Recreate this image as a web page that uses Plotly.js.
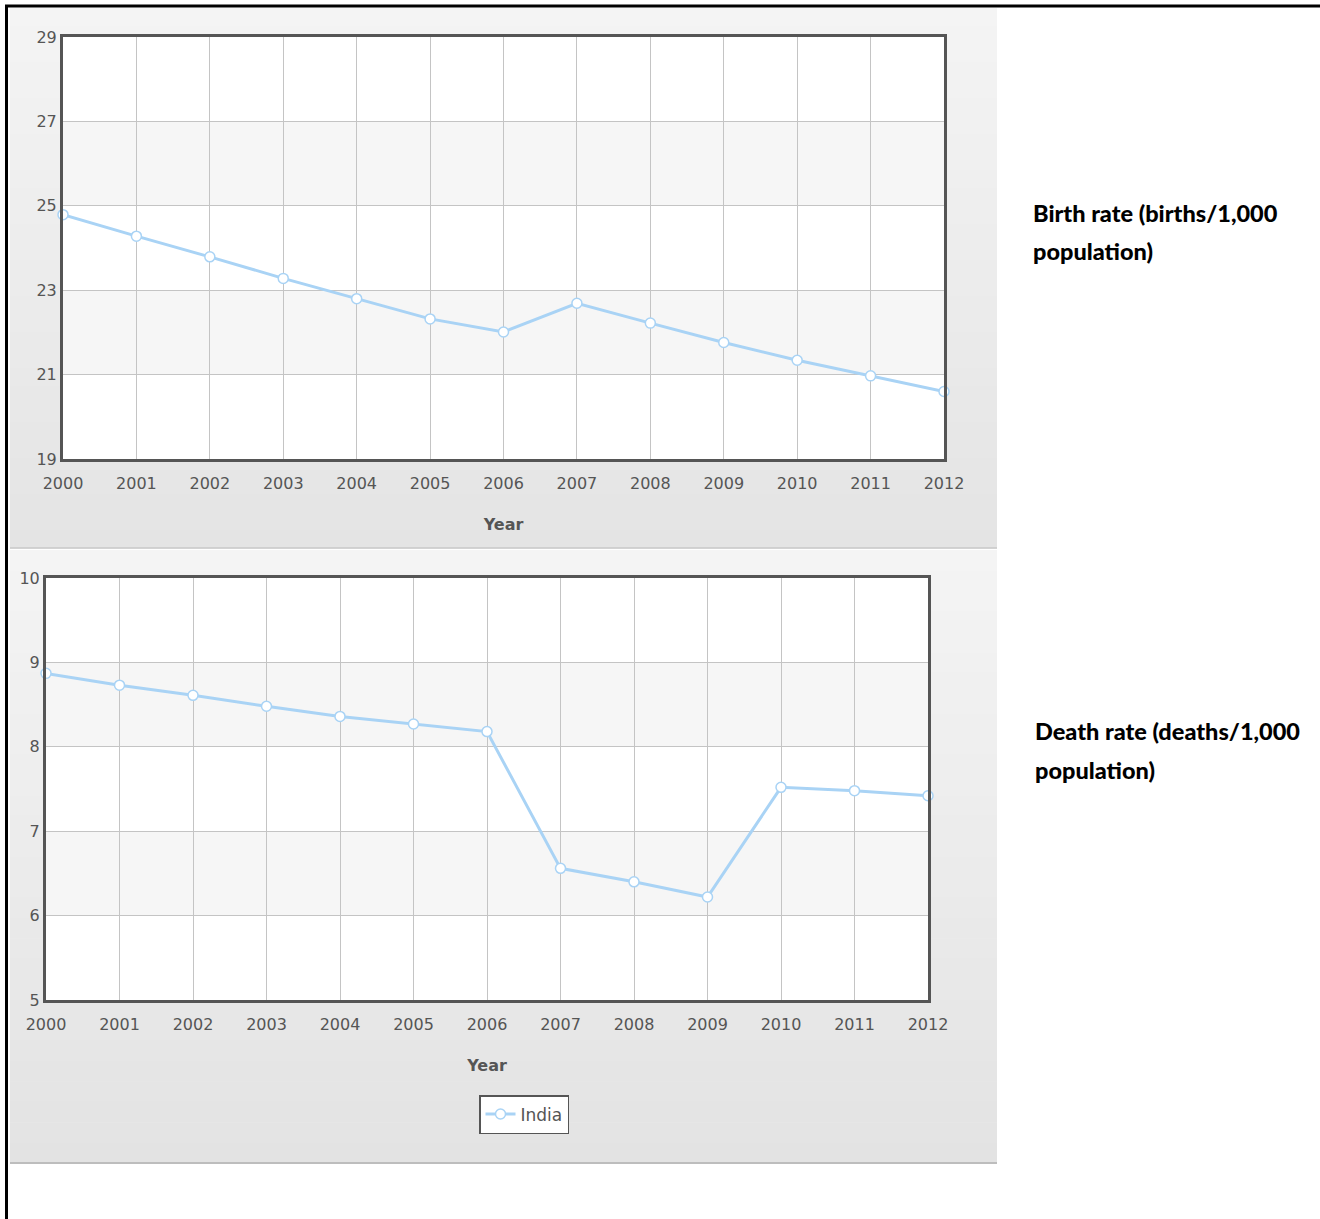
<!DOCTYPE html>
<html>
<head>
<meta charset="utf-8">
<script src="https://cdn.plot.ly/plotly-3.0.1.min.js"></script>
<style>
  html, body { margin: 0; padding: 0; background: #ffffff; }
  #chart { width: 1320px; height: 1219px; }
</style>
</head>
<body>
<div id="chart"></div>
<script>
// ---- data ----
const years = [2000, 2001, 2002, 2003, 2004, 2005, 2006, 2007, 2008, 2009, 2010, 2011, 2012];
const birthRate = [24.79, 24.28, 23.79, 23.28, 22.8, 22.32, 22.01, 22.69, 22.22, 21.76, 21.34, 20.97, 20.6];
const deathRate = [8.87, 8.73, 8.61, 8.48, 8.36, 8.27, 8.18, 6.56, 6.4, 6.22, 7.52, 7.48, 7.42];
const seriesName = "India";
const birthTicks = [19, 21, 23, 25, 27, 29];
const deathTicks = [5, 6, 7, 8, 9, 10];
const xTitle = "Year";
const birthLabel = ["Birth rate (births/1,000", "population)"];
const deathLabel = ["Death rate (deaths/1,000", "population)"];

// ---- layout helpers ----
const W = 1320, H = 1219;
const px = x => x / W;
const py = y => 1 - y / H;

const lineColor = "#a9d3f5";
const tickFont = { family: "DejaVu Sans, Verdana, sans-serif", size: 16, color: "#555555" };

function hexMix(a, b, t) {
  const pa = [parseInt(a.slice(1,3),16), parseInt(a.slice(3,5),16), parseInt(a.slice(5,7),16)];
  const pb = [parseInt(b.slice(1,3),16), parseInt(b.slice(3,5),16), parseInt(b.slice(5,7),16)];
  const c = pa.map((v, i) => Math.round(v + (pb[i] - v) * t));
  return "rgb(" + c.join(",") + ")";
}

const shapes = [];
// gradient panels
function panel(x0, y0, x1, y1, cTop, cBot) {
  const steps = 30;
  const h = (y1 - y0) / steps;
  for (let i = 0; i < steps; i++) {
    shapes.push({
      type: "rect", xref: "paper", yref: "paper", layer: "below",
      x0: px(x0), x1: px(x1), y0: py(y0 + i * h), y1: py(y0 + (i + 1) * h + 0.6),
      fillcolor: hexMix(cTop, cBot, i / (steps - 1)), line: { width: 0 }
    });
  }
}
panel(10, 8, 997, 548, "#f4f4f4", "#e4e4e4");
panel(10, 550, 997, 1163, "#f4f4f4", "#e3e3e3");
// panel separators
shapes.push({ type: "line", xref: "paper", yref: "paper", layer: "below",
  x0: px(10), x1: px(997), y0: py(548), y1: py(548), line: { color: "#c9c9c9", width: 1.5 } });
shapes.push({ type: "line", xref: "paper", yref: "paper", layer: "below",
  x0: px(10), x1: px(997), y0: py(1163), y1: py(1163), line: { color: "#bdbdbd", width: 2 } });
// outer black frame (top and left)
shapes.push({ type: "line", xref: "paper", yref: "paper", layer: "above",
  x0: px(5), x1: 1, y0: py(6), y1: py(6), line: { color: "#000000", width: 3 } });
shapes.push({ type: "line", xref: "paper", yref: "paper", layer: "above",
  x0: px(6.5), x1: px(6.5), y0: py(5), y1: 0, line: { color: "#000000", width: 3 } });

// plot area white + alternating bands
function plotBands(xa, ya, ticks) {
  shapes.push({ type: "rect", xref: xa + " domain", yref: ya + " domain", layer: "below",
    x0: 0, x1: 1, y0: 0, y1: 1, fillcolor: "#ffffff", line: { width: 0 } });
  for (let i = 1; i < ticks.length - 1; i += 2) {
    shapes.push({ type: "rect", xref: xa + " domain", yref: ya, layer: "below",
      x0: 0, x1: 1, y0: ticks[i], y1: ticks[i + 1], fillcolor: "#f6f6f6", line: { width: 0 } });
  }
}
plotBands("x", "y", birthTicks);
plotBands("x2", "y2", deathTicks);

const annotations = [];
function sideLabel(lines, x, yc1, yc2) {
  [yc1, yc2].forEach((yc, i) => {
    annotations.push({
      text: lines[i], xref: "paper", yref: "paper", x: px(x), y: py(yc),
      xanchor: "left", yanchor: "middle", showarrow: false,
      font: { family: "Lato, 'Open Sans', sans-serif", size: 23.5, color: "#000000", weight: 900 }
    });
  });
}
sideLabel(birthLabel, 1031, 213, 251);
sideLabel(deathLabel, 1033, 731, 770);

const traceStyle = {
  type: "scatter", mode: "lines+markers", cliponaxis: false,
  line: { color: lineColor, width: 3 },
  marker: { symbol: "circle", size: 10, color: "#ffffff", line: { color: lineColor, width: 1.5 } }
};

const traces = [
  Object.assign({}, traceStyle, { x: years, y: birthRate, name: seriesName, xaxis: "x", yaxis: "y", showlegend: false }),
  Object.assign({}, traceStyle, { x: years, y: deathRate, name: seriesName, xaxis: "x2", yaxis: "y2", showlegend: true })
];

function xAxis(domain, anchor) {
  return {
    domain: domain, anchor: anchor, range: [years[0], years[years.length - 1]],
    tickmode: "array", tickvals: years, ticktext: years.map(String),
    showgrid: true, gridcolor: "#c4c4c4", gridwidth: 1, zeroline: false,
    showline: true, linecolor: "#555555", linewidth: 3, mirror: true,
    ticks: "outside", ticklen: 8, tickcolor: "rgba(0,0,0,0)",
    tickfont: tickFont, fixedrange: true,
    title: { text: xTitle, font: { family: "DejaVu Sans, Verdana, sans-serif", size: 16, color: "#555555", weight: 700 }, standoff: 27 }
  };
}
function yAxis(domain, anchor, ticks) {
  return {
    domain: domain, anchor: anchor, range: [ticks[0], ticks[ticks.length - 1]],
    tickmode: "array", tickvals: ticks, ticktext: ticks.map(String),
    showgrid: true, gridcolor: "#c4c4c4", gridwidth: 1, zeroline: false,
    showline: true, linecolor: "#555555", linewidth: 3, mirror: true,
    ticks: "", 
    tickfont: tickFont, fixedrange: true
  };
}

const layout = {
  width: W, height: H,
  margin: { l: 0, r: 0, t: 0, b: 0 },
  paper_bgcolor: "#ffffff", plot_bgcolor: "#ffffff",
  xaxis: xAxis([px(63), px(944)], "y"),
  yaxis: yAxis([py(459), py(37)], "x", birthTicks),
  xaxis2: xAxis([px(46), px(928)], "y2"),
  yaxis2: yAxis([py(1000), py(578)], "x2", deathTicks),
  showlegend: true,
  legend: {
    x: px(479), y: py(1095), xanchor: "left", yanchor: "top",
    bgcolor: "#ffffff", bordercolor: "#555555", borderwidth: 1.5,
    font: { family: "DejaVu Sans, Verdana, sans-serif", size: 17, color: "#555555" },
    itemwidth: 30
  },
  shapes: shapes,
  annotations: annotations,
  hovermode: false
};

Plotly.newPlot("chart", traces, layout, { displayModeBar: false, staticPlot: true });
</script>
</body>
</html>
